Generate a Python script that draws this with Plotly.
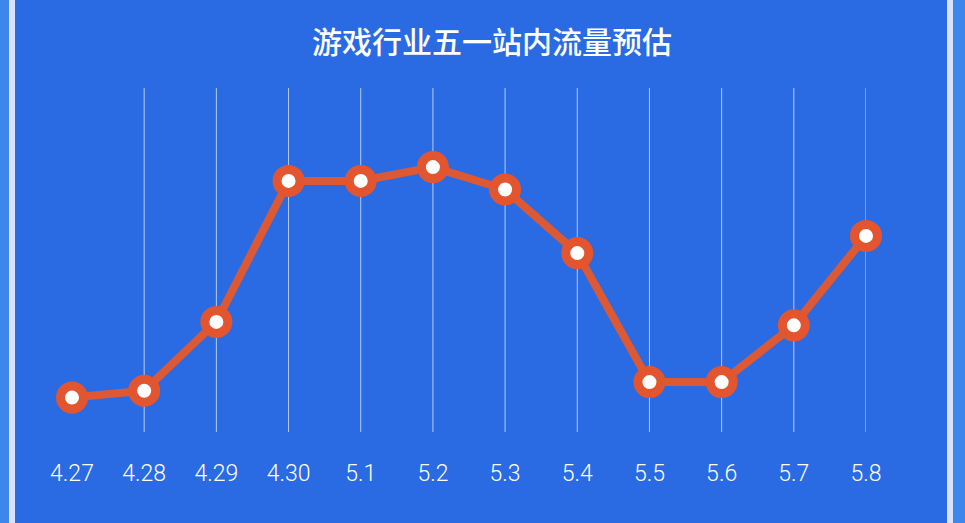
import plotly.graph_objects as go

# data
dates = ['4.27', '4.28', '4.29', '4.30', '5.1', '5.2', '5.3', '5.4', '5.5', '5.6', '5.7', '5.8']
traffic = [10, 12, 32, 73, 73, 77, 70.5, 52, 14.5, 14.5, 31, 57]

W, H = 965, 523
bg = '#2a6be3'
edge = '#3b87ec'
strip = '#d9e1fb'

idx = list(range(len(dates)))

fig = go.Figure()
fig.add_trace(go.Scatter(x=idx, y=traffic, mode='lines+markers',
                         line=dict(color='#dc5934', width=8),
                         marker=dict(size=23, color='white', line=dict(color='#e3552f', width=9)),
                         hoverinfo='skip', showlegend=False, cliponaxis=False))

# vertical split lines, skipping the first category
for i in idx[1:]:
    fig.add_shape(type='line', xref='x', yref='y', x0=i, x1=i, y0=0, y1=100,
                  line=dict(color='rgba(255,255,255,0.65)', width=1), layer='below')

# decorative frame edges
def px(p):
    return (p - 72) / (866 - 72)
for a, b, c in [(-5, 9, edge), (9, 15, strip), (947, 953, strip), (953, 975, edge)]:
    fig.add_shape(type='rect', xref='paper', yref='paper', x0=px(a), x1=px(b), y0=-1, y1=2,
                  fillcolor=c, line=dict(width=0), layer='above')

fig.update_layout(
    width=W, height=H,
    paper_bgcolor=bg, plot_bgcolor=bg,
    margin=dict(l=72, r=W - 866, t=88, b=H - 432),
    title=dict(text='游戏行业五一站内流量预估', x=px(492), xanchor='center', xref='paper',
               y=1 - 42 / H, yref='container', yanchor='middle',
               font=dict(family='Noto Sans CJK SC', size=30, color='white', weight=500)),
    xaxis=dict(range=[0, 11], tickvals=idx, ticktext=dates, showgrid=False, zeroline=False,
               showline=False, ticks='outside', ticklen=20, tickcolor='rgba(0,0,0,0)',
               tickfont=dict(family='Roboto', size=23, color='white', weight=300)),
    yaxis=dict(range=[0, 100], visible=False, showgrid=False, zeroline=False),
)

fig.write_html('out.html', config={'displayModeBar': False},
               post_script="document.body.style.margin='0';")
